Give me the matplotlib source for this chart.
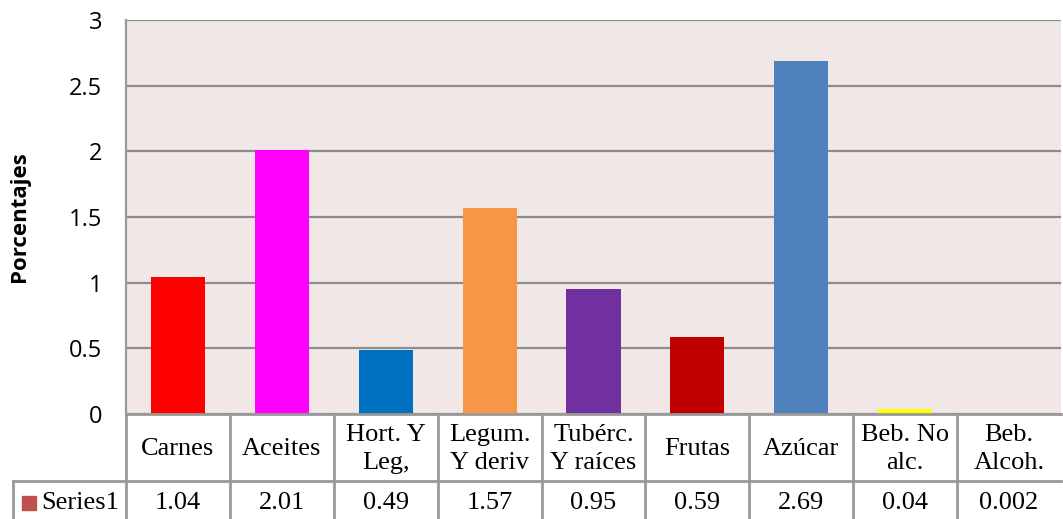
import matplotlib
matplotlib.use("Agg")
import matplotlib.pyplot as plt
from matplotlib.patches import Rectangle

# Datos
categorias = ["Carnes", "Aceites", "Hort. Y\nLeg,", "Legum.\nY deriv", "Tubérc.\nY raíces",
              "Frutas", "Azúcar", "Beb. No\nalc.", "Beb.\nAlcoh."]
valores = [1.04, 2.01, 0.49, 1.57, 0.95, 0.59, 2.69, 0.04, 0.002]
etiquetas_valor = ["1.04", "2.01", "0.49", "1.57", "0.95", "0.59", "2.69", "0.04", "0.002"]
colores = ["#FF0000", "#FF00FF", "#0070C0", "#F79646", "#7030A0",
           "#C00000", "#4F81BD", "#FFFF00", "#9BBB59"]
serie = "Series1"
yticks = [0, 0.5, 1, 1.5, 2, 2.5, 3]

W, H = 1063, 519
fig = plt.figure(figsize=(W / 100, H / 100), dpi=100)
fig.patch.set_facecolor("white")

# area del grafico en pixeles
x0, x1 = 126, 1061
ytop, ybot = 20, 414
ax = fig.add_axes([x0 / W, (H - ybot) / H, (x1 - x0) / W, (ybot - ytop) / H])
ax.set_facecolor("#F2E7E7")

n = len(categorias)
pos = list(range(n))
ax.bar(pos, valores, width=0.52, color=colores, zorder=3)
ax.set_xlim(-0.5, n - 0.5)
ax.set_ylim(0, 3)
ax.set_yticks(yticks)
ax.set_yticklabels([f"{t:g}" for t in yticks], fontfamily="Open Sans", fontsize=17)
ax.tick_params(axis="y", length=0, pad=17)
ax.set_xticks([])
ax.yaxis.grid(True, color="#8C8C8C", linewidth=1.6, zorder=1)
for s in ["top", "right", "bottom"]:
    ax.spines[s].set_visible(False)
ax.spines["left"].set_color("#999999")
ax.spines["left"].set_linewidth(1.6)
ax.set_ylabel("Porcentajes", fontfamily="Open Sans", fontweight="bold", fontsize=16, labelpad=28)

# tabla de datos debajo del grafico
tab_h = H - ybot
tax = fig.add_axes([x0 / W, 0, (x1 - x0) / W, tab_h / H])
tax.set_xlim(-0.5, n - 0.5)
tax.set_ylim(0, tab_h)
tax.axis("off")
lc = "#999999"
lw = 2.0
y_mid = H - 481
tax.plot([-0.5, n - 0.5], [tab_h, tab_h], color=lc, lw=lw, clip_on=False)
col_px = (x1 - x0) / n
x_leg = -0.5 - (x0 - 13) / col_px
tax.plot([x_leg, n - 0.5], [y_mid, y_mid], color=lc, lw=lw, clip_on=False)
tax.plot([x_leg, x_leg], [0, y_mid], color=lc, lw=lw, clip_on=False)
for i in range(n):
    tax.plot([i - 0.5, i - 0.5], [0, tab_h], color=lc, lw=lw, clip_on=False)

y_val = H - 503
y_cat = H - 449
font_tab = dict(fontfamily="Liberation Serif", fontsize=19, ha="center", va="center")
for i in range(n):
    tax.text(i, y_cat, categorias[i], linespacing=1.3, **font_tab)
    tax.text(i, y_val, etiquetas_valor[i], **font_tab)

# clave de la leyenda
kx = x_leg + 9 / col_px
tax.add_patch(Rectangle((kx, y_val - 7), 14 / col_px, 14, color="#C0504D", clip_on=False))
tax.text(kx + 19 / col_px, y_val, serie, fontfamily="Liberation Serif", fontsize=19,
         ha="left", va="center")

fig.savefig("out.png", dpi=100)
